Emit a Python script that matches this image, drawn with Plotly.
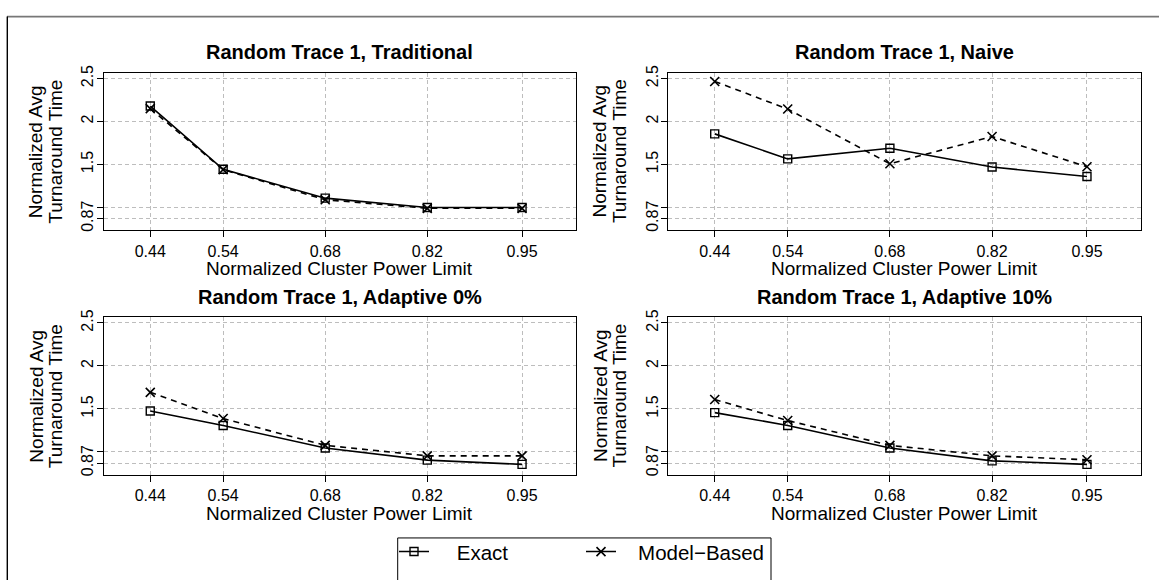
import plotly.graph_objects as go

# ---------------- data ----------------
power = [0.44, 0.54, 0.68, 0.82, 0.95]
power_labels = ["0.44", "0.54", "0.68", "0.82", "0.95"]
panel_titles = ["Random Trace 1, Traditional", "Random Trace 1, Naive",
                "Random Trace 1, Adaptive 0%", "Random Trace 1, Adaptive 10%"]
exact_trad = [2.18, 1.444, 1.108, 1.0, 1.0]
model_trad = [2.15, 1.44, 1.09, 0.99, 0.99]
exact_naive = [1.856, 1.565, 1.688, 1.47, 1.36]
model_naive = [2.466, 2.145, 1.508, 1.825, 1.474]
exact_a0 = [1.476, 1.308, 1.045, 0.904, 0.855]
model_a0 = [1.693, 1.388, 1.076, 0.954, 0.954]
exact_a10 = [1.457, 1.308, 1.045, 0.896, 0.855]
model_a10 = [1.609, 1.365, 1.076, 0.954, 0.908]
y_ticks = [0.87, 1, 1.5, 2, 2.5]
y_tick_labels = ["0.87", "", "1.5", "2", "2.5"]
x_title = "Normalized Cluster Power Limit"
y_title_lines = ["Normalized Avg", "Turnaround Time"]
series_names = ["Exact", "Model\u2212Based"]

exact_sets = [exact_trad, exact_naive, exact_a0, exact_a10]
model_sets = [model_trad, model_naive, model_a0, model_a10]

# ---------------- layout geometry (pixels) ----------------
W, H = 1159, 580
FONT = "Liberation Sans, Arial, Helvetica, sans-serif"
NB = "\u00a0"
boxes = [  # x0, x1, ytop, ybottom
    (103.6, 576.0, 65.7, 226.0),
    (668.0, 1141.0, 65.7, 226.0),
    (103.6, 576.0, 314.0, 474.3),
    (668.0, 1141.0, 314.0, 474.3),
]


def px(x):
    return x / W


def py(y):
    return 1 - y / H


fig = go.Figure()
layout = dict(
    width=W, height=H,
    margin=dict(l=0, r=0, t=0, b=0),
    paper_bgcolor="white", plot_bgcolor="white",
    font=dict(family=FONT, size=16, color="black"),
    showlegend=True,
)
annotations = []
shapes = []

for i, (x0, x1, yt, yb) in enumerate(boxes):
    sfx = "" if i == 0 else str(i + 1)
    xa = "x" + sfx
    ya = "y" + sfx
    fig.add_trace(go.Scatter(
        x=power, y=exact_sets[i], xaxis=xa, yaxis=ya, mode="lines+markers",
        name=series_names[0], showlegend=False,
        line=dict(color="black", width=1.6),
        marker=dict(symbol="square-open", size=8, color="black", line=dict(width=1.4)),
    ))
    fig.add_trace(go.Scatter(
        x=power, y=model_sets[i], xaxis=xa, yaxis=ya, mode="lines+markers",
        name=series_names[1], showlegend=False,
        line=dict(color="black", width=1.6, dash="6px,5px"),
        marker=dict(symbol="x-thin", size=9, color="black", line=dict(width=1.6, color="black")),
    ))
    common = dict(showline=True, linecolor="black", linewidth=1, mirror=True,
                  ticks="outside", ticklen=6, tickcolor="black", tickwidth=1,
                  showgrid=True, gridcolor="#bdbdbd", gridwidth=1, griddash="4px,3px",
                  zeroline=False, tickfont=dict(size=16, family=FONT, color="black"))
    layout["xaxis" + sfx] = dict(
        domain=[px(x0), px(x1)], anchor=ya, range=[0.376, 1.024],
        tickmode="array", tickvals=power, ticktext=power_labels, **common)
    layout["yaxis" + sfx] = dict(
        domain=[py(yb), py(yt)], anchor=xa, range=[0.732, 2.568],
        tickmode="array", tickvals=y_ticks, ticktext=y_tick_labels,
        tickangle=-90, ticklabelstandoff=-3, **common)
    cx = (x0 + x1) / 2
    cy = (yt + yb) / 2
    annotations.append(dict(
        text="<b>" + panel_titles[i] + "</b>", xref="paper", yref="paper",
        x=px(cx), y=py(yt - 20.5), xanchor="center", yanchor="middle", showarrow=False,
        font=dict(size=20, family=FONT, color="black")))
    annotations.append(dict(
        text=x_title, xref="paper", yref="paper",
        x=px(cx), y=py(yb + 39), xanchor="center", yanchor="middle", showarrow=False,
        font=dict(size=19, family=FONT, color="black")))
    for k, line in enumerate(y_title_lines):
        annotations.append(dict(
            text=line, xref="paper", yref="paper", textangle=-90,
            x=px(x0 - 68 + 19.5 * k), y=py(cy), xanchor="center", yanchor="middle",
            showarrow=False, font=dict(size=19, family=FONT, color="black")))

# legend-only key traces (solid line samples as in the reference)
fig.add_trace(go.Scatter(x=[None], y=[None], mode="lines+markers", name=NB * 4 + series_names[0],
                         line=dict(color="black", width=1.6),
                         marker=dict(symbol="square-open", size=8, color="black", line=dict(width=1.4))))
fig.add_trace(go.Scatter(x=[None], y=[None], mode="lines+markers", name=NB * 3 + series_names[1],
                         line=dict(color="black", width=1.6),
                         marker=dict(symbol="x-thin", size=9, color="black", line=dict(width=1.6, color="black"))))

# outer frame (top grey, left black)
shapes.append(dict(type="line", xref="paper", yref="paper", x0=px(7), x1=px(W + 2),
                   y0=py(8.7), y1=py(8.7), line=dict(color="#777777", width=1.8)))
shapes.append(dict(type="line", xref="paper", yref="paper", x0=px(7.3), x1=px(7.3),
                   y0=py(8.7), y1=py(H + 5), line=dict(color="black", width=1.4)))
# legend box (cut off at the bottom)
shapes.append(dict(type="rect", xref="paper", yref="paper", x0=px(397.7), x1=px(771),
                   y0=py(538.3), y1=py(H + 30), line=dict(color="black", width=1)))

layout["annotations"] = annotations
layout["shapes"] = shapes
layout["legend"] = dict(orientation="h", x=px(394), y=py(532), xanchor="left", yanchor="top",
                        font=dict(size=20.5, family=FONT, color="black"),
                        bgcolor="rgba(0,0,0,0)", borderwidth=0,
                        entrywidth=142, itemwidth=30)
fig.update_layout(**layout)
fig.write_html("out.html", config={"displayModeBar": False},
               post_script="document.body.style.margin='0px';")
